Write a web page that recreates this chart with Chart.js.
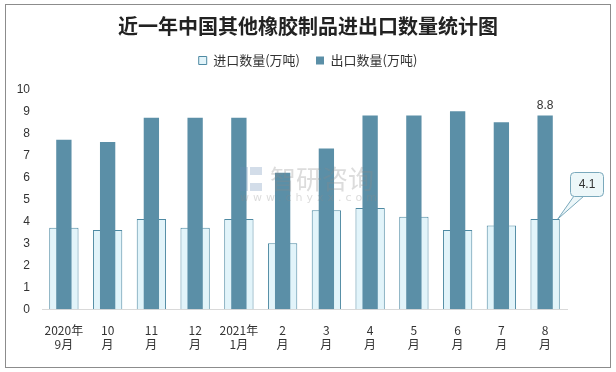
<!DOCTYPE html>
<html>
<head>
<meta charset="utf-8">
<script src="https://cdn.jsdelivr.net/npm/chart.js@4/dist/chart.umd.min.js"></script>
<style>
  body { margin: 0; background: #fff; }
  #wrap { width: 616px; height: 372px; }
</style>
</head>
<body>
<div id="wrap"><canvas id="rubberChart" width="616" height="372"></canvas></div>
<script>
// 近一年中国其他橡胶制品进出口数量
const months = [
    ['2020年', '9月'], ['10', '月'], ['11', '月'], ['12', '月'],
    ['2021年', '1月'], ['2', '月'], ['3', '月'], ['4', '月'],
    ['5', '月'], ['6', '月'], ['7', '月'], ['8', '月']
];
const importQty = [3.7, 3.6, 4.1, 3.7, 4.1, 3.0, 4.5, 4.6, 4.2, 3.6, 3.8, 4.1];
const exportQty = [7.7, 7.6, 8.7, 8.7, 8.7, 6.2, 7.3, 8.8, 8.8, 9.0, 8.5, 8.8];
const yTicks = [0, 1, 2, 3, 4, 5, 6, 7, 8, 9, 10];

const cjkFont = '"Noto Sans CJK SC", "Liberation Sans", sans-serif';

// frame, watermark and the two value labels on the last month
const extras = {
    id: 'extras',
    beforeDraw(chart) {
        const ctx = chart.ctx;
        ctx.save();
        ctx.fillStyle = '#fff';
        ctx.fillRect(0, 0, chart.width, chart.height);
        ctx.strokeStyle = '#8c8c8c';
        ctx.lineWidth = 1;
        ctx.strokeRect(5.5, 4.5, 605, 363);
        ctx.restore();
    },
    afterDatasetsDraw(chart) {
        const ctx = chart.ctx;
        const last = months.length - 1;
        const exBar = chart.getDatasetMeta(1).data[last];
        const imBar = chart.getDatasetMeta(0).data[last];

        ctx.save();
        // watermark
        ctx.globalAlpha = 0.3;
        ctx.fillStyle = '#8a8a8a';
        ctx.font = '26px ' + cjkFont;
        ctx.textBaseline = 'middle';
        ctx.fillText('智研咨询', 270, 179);
        ctx.font = '11px "DejaVu Sans", sans-serif';
        ctx.letterSpacing = '4px';
        ctx.fillText('www.chyxx.com', 240, 198);
        ctx.letterSpacing = '0px';
        ctx.fillStyle = '#6c8fb5';
        ctx.fillRect(240, 167, 8, 24);
        ctx.fillRect(250, 167, 12, 8);
        ctx.fillRect(250, 183, 12, 8);
        ctx.globalAlpha = 1;

        // label on top of last export bar
        ctx.fillStyle = '#333';
        ctx.font = '12px "Liberation Sans", sans-serif';
        ctx.textAlign = 'center';
        ctx.textBaseline = 'bottom';
        ctx.fillText(exportQty[last].toFixed(1), exBar.x, exBar.y - 4);

        // callout for last import bar
        const bx = 570, by = 172, bw = 33, bh = 24;
        const tipX = imBar.x + imBar.width / 2 - 2;
        const tipY = imBar.y;
        ctx.beginPath();
        ctx.moveTo(bx + 4, by + bh);
        ctx.lineTo(tipX, tipY);
        ctx.lineTo(bx + 14, by + bh);
        ctx.fillStyle = '#edf7f9';
        ctx.fill();
        ctx.strokeStyle = '#7aa9bc';
        ctx.lineWidth = 1;
        ctx.stroke();
        ctx.beginPath();
        ctx.roundRect(bx + 0.5, by + 0.5, bw, bh, 4);
        ctx.fillStyle = '#edf7f9';
        ctx.fill();
        ctx.stroke();
        ctx.fillStyle = '#333';
        ctx.textBaseline = 'middle';
        ctx.fillText(importQty[last].toFixed(1), bx + bw / 2 + 0.5, by + bh / 2 + 1);
        ctx.restore();
    }
};

const ctx = document.getElementById('rubberChart').getContext('2d');

new Chart(ctx, {
    type: 'bar',
    data: {
        labels: months,
        datasets: [{
            label: '进口数量(万吨)',
            data: importQty,
            backgroundColor: '#e2f4fa',
            borderColor: '#4f8aa3',
            borderWidth: 1,
            barPercentage: 0.67,
            categoryPercentage: 1,
            grouped: false,
            order: 2
        }, {
            label: '出口数量(万吨)',
            data: exportQty,
            backgroundColor: '#5b8fa7',
            borderColor: '#5b8fa7',
            borderWidth: 0,
            barPercentage: 0.35,
            categoryPercentage: 1,
            grouped: false,
            order: 1
        }]
    },
    options: {
        responsive: false,
        animation: false,
        layout: {
            padding: { left: 5, right: 5, top: 4, bottom: 14 }
        },
        plugins: {
            title: {
                display: true,
                text: '近一年中国其他橡胶制品进出口数量统计图',
                color: '#222',
                font: { family: cjkFont, size: 20, weight: 'bold' },
                padding: { top: 10, bottom: 0 }
            },
            // empty spacer between legend and plot
            subtitle: {
                display: true,
                text: ' ',
                weight: 500,
                font: { size: 1 },
                padding: { top: 0, bottom: 11 }
            },
            legend: {
                display: true,
                labels: {
                    boxWidth: 8,
                    boxHeight: 8,
                    padding: 16,
                    color: '#333',
                    font: { family: cjkFont, size: 13 },
                    sort: (a, b) => a.datasetIndex - b.datasetIndex
                }
            },
            tooltip: { enabled: false }
        },
        scales: {
            x: {
                grid: { display: false },
                border: { color: '#d9d9d9' },
                ticks: {
                    color: '#333',
                    font: { family: cjkFont, size: 12 },
                    maxRotation: 0,
                    autoSkip: false,
                    padding: 6
                }
            },
            y: {
                min: 0,
                max: 10,
                afterBuildTicks(scale) {
                    scale.ticks = yTicks.map(v => ({ value: v }));
                },
                afterFit(scale) {
                    scale.width = 37;
                },
                grid: { display: false },
                border: { display: false },
                ticks: {
                    color: '#333',
                    font: { family: '"Liberation Sans", sans-serif', size: 12 },
                    padding: 4
                }
            },
            // blank right-hand strip that keeps the plot clear of the callout
            yRight: {
                position: 'right',
                afterFit(scale) {
                    scale.width = 44;
                },
                grid: { display: false },
                border: { display: false },
                ticks: { display: false }
            }
        }
    },
    plugins: [extras]
});
</script>
</body>
</html>
